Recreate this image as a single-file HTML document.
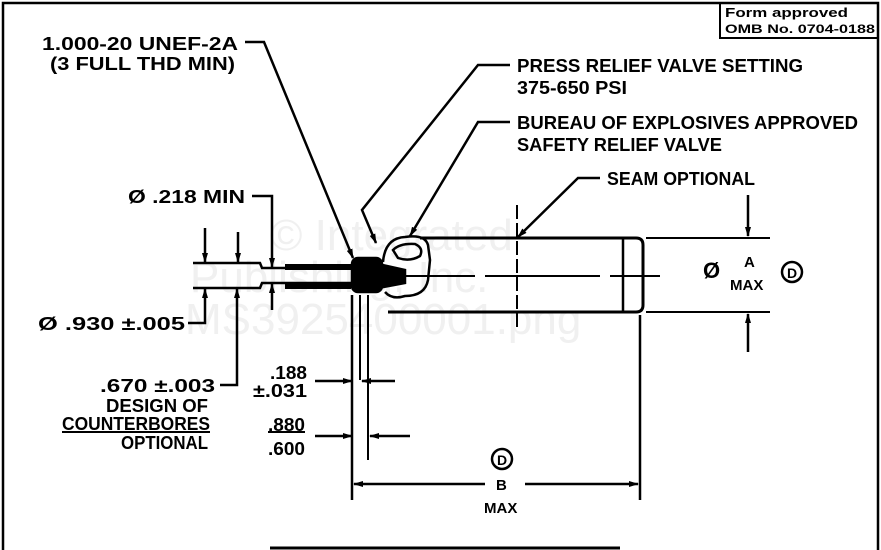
<!DOCTYPE html>
<html><head><meta charset="utf-8"><style>
html,body{margin:0;padding:0;background:#fff;}
svg{display:block;}
text{font-family:"Liberation Sans",sans-serif;font-weight:bold;fill:#000;}
</style></head><body>
<svg width="881" height="550" viewBox="0 0 881 550" xmlns="http://www.w3.org/2000/svg">
<defs>
<marker id="ar" markerWidth="10" markerHeight="8" refX="9" refY="4" orient="auto" markerUnits="userSpaceOnUse">
<path d="M0,1 L10,4 L0,7 Z" fill="#000"/></marker>
</defs>
<g font-size="44">
<text x="270" y="250" style="fill:#f0f0f0;font-weight:normal">© Integrated</text>
<text x="190" y="292" style="fill:#f0f0f0;font-weight:normal">Publishing, Inc.</text>
<text x="185" y="334" style="fill:#f0f0f0;font-weight:normal">MS3925400001.png</text>
</g>
<g stroke="#000" fill="none" stroke-width="2.5">
<path d="M3,550 L3,3 L878,3 L878,550"/>
<rect x="720" y="3" width="158" height="35" stroke-width="2"/>
<line x1="270" y1="548" x2="620" y2="548" stroke-width="3"/>
<path d="M245,42 L264,42 L353,258" marker-end="url(#ar)"/>
<path d="M510,65 L478,65 L362,210 L376,243" marker-end="url(#ar)"/>
<path d="M510,122 L478,122 L410,236" marker-end="url(#ar)"/>
<path d="M600,178 L578,178 L518,237" marker-end="url(#ar)"/>
<path d="M420,238 L636,238 Q643,238 643,245 L643,305 Q643,312 636,312 L388,312" stroke-width="3"/>
<line x1="623" y1="238" x2="623" y2="312"/>
<path d="M383,262 Q385,238 405,237 Q425,234 428,245 L430,260 L428,280 Q425,296 405,296 Q392,300 385,292" stroke-width="2.5"/>
<path d="M393,250 Q400,243 415,244 Q424,248 420,256 Q410,262 398,258 Z" stroke-width="2.5"/>
<rect x="352" y="258" width="30" height="34" rx="6" fill="#000"/>
<path d="M378,264 L405,270 L405,283 L378,288 Z" fill="#000"/>
<path d="M400,276 L475,276 M485,276 L600,276 M610,276 L660,276" stroke-width="2"/>
<path d="M517,205 L517,330" stroke-dasharray="14,4" stroke-width="2"/>
<path d="M193,263 L260,263 L262,268 L352,268" />
<path d="M193,288 L260,288 L262,283 L352,283" />
<rect x="285" y="264" width="66" height="6" fill="#000" stroke="none"/>
<rect x="285" y="282" width="66" height="7" fill="#000" stroke="none"/>
<line x1="205" y1="228" x2="205" y2="262" marker-end="url(#ar)"/>
<line x1="238" y1="232" x2="238" y2="262" marker-end="url(#ar)"/>
<path d="M252,196 L272,196 L272,267" marker-end="url(#ar)"/>
<path d="M188,323 L205,323 L205,289" marker-end="url(#ar)"/>
<path d="M220,385 L237,385 L237,289" marker-end="url(#ar)"/>
<line x1="272" y1="310" x2="272" y2="284" marker-end="url(#ar)"/>
<line x1="352" y1="295" x2="352" y2="500"/>
<line x1="360" y1="295" x2="360" y2="380" stroke-width="2"/>
<line x1="368" y1="295" x2="368" y2="460" stroke-width="2"/>
<line x1="640" y1="315" x2="640" y2="500"/>
<line x1="315" y1="381" x2="352" y2="381" marker-end="url(#ar)"/>
<line x1="395" y1="381" x2="362" y2="381" marker-end="url(#ar)"/>
<line x1="315" y1="436" x2="352" y2="436" marker-end="url(#ar)"/>
<line x1="410" y1="436" x2="370" y2="436" marker-end="url(#ar)"/>
<line x1="485" y1="484" x2="354" y2="484" marker-end="url(#ar)"/>
<line x1="525" y1="484" x2="638" y2="484" marker-end="url(#ar)"/>
<line x1="646" y1="238" x2="770" y2="238" stroke-width="2"/>
<line x1="646" y1="312" x2="770" y2="312" stroke-width="2"/>
<line x1="748" y1="195" x2="748" y2="236" marker-end="url(#ar)"/>
<line x1="748" y1="352" x2="748" y2="314" marker-end="url(#ar)"/>
<circle cx="792" cy="272" r="10" stroke-width="2.5"/>
<circle cx="502" cy="459" r="10" stroke-width="2.5"/>
<line x1="62" y1="432" x2="210" y2="432" stroke-width="2"/>
<line x1="268" y1="432" x2="305" y2="432" stroke-width="2"/>
</g>
<g font-size="18">
<text x="725" y="17" font-size="13" textLength="123" lengthAdjust="spacingAndGlyphs">Form approved</text>
<text x="725" y="33" font-size="12" textLength="150" lengthAdjust="spacingAndGlyphs">OMB No. 0704-0188</text>
<text x="42" y="50" textLength="196" lengthAdjust="spacingAndGlyphs">1.000-20 UNEF-2A</text>
<text x="50" y="70" textLength="185" lengthAdjust="spacingAndGlyphs">(3 FULL THD MIN)</text>
<text x="517" y="72" textLength="286" lengthAdjust="spacingAndGlyphs">PRESS RELIEF VALVE SETTING</text>
<text x="517" y="94" textLength="110" lengthAdjust="spacingAndGlyphs">375-650 PSI</text>
<text x="517" y="129" textLength="341" lengthAdjust="spacingAndGlyphs">BUREAU OF EXPLOSIVES APPROVED</text>
<text x="517" y="151" textLength="205" lengthAdjust="spacingAndGlyphs">SAFETY RELIEF VALVE</text>
<text x="607" y="185" textLength="148" lengthAdjust="spacingAndGlyphs">SEAM OPTIONAL</text>
<text x="128" y="203" textLength="117" lengthAdjust="spacingAndGlyphs">Ø .218 MIN</text>
<text x="38" y="330" textLength="147" lengthAdjust="spacingAndGlyphs">Ø .930 ±.005</text>
<text x="100" y="392" textLength="115" lengthAdjust="spacingAndGlyphs">.670 ±.003</text>
<text x="106" y="412" textLength="102" lengthAdjust="spacingAndGlyphs">DESIGN OF</text>
<text x="62" y="430" textLength="148" lengthAdjust="spacingAndGlyphs">COUNTERBORES</text>
<text x="121" y="449" textLength="87" lengthAdjust="spacingAndGlyphs">OPTIONAL</text>
<text x="270" y="379" textLength="37" lengthAdjust="spacingAndGlyphs">.188</text>
<text x="253" y="397" textLength="54" lengthAdjust="spacingAndGlyphs">±.031</text>
<text x="268" y="431" textLength="37" lengthAdjust="spacingAndGlyphs">.880</text>
<text x="268" y="455" textLength="37" lengthAdjust="spacingAndGlyphs">.600</text>
<text x="703" y="278" font-size="22">Ø</text>
<text x="744" y="267" font-size="15">A</text>
<text x="730" y="290" font-size="15">MAX</text>
<text x="787" y="278" font-size="14">D</text>
<text x="497" y="465" font-size="14">D</text>
<text x="496" y="490" font-size="15">B</text>
<text x="484" y="513" font-size="15">MAX</text>
</g>
</svg>
</body></html>
